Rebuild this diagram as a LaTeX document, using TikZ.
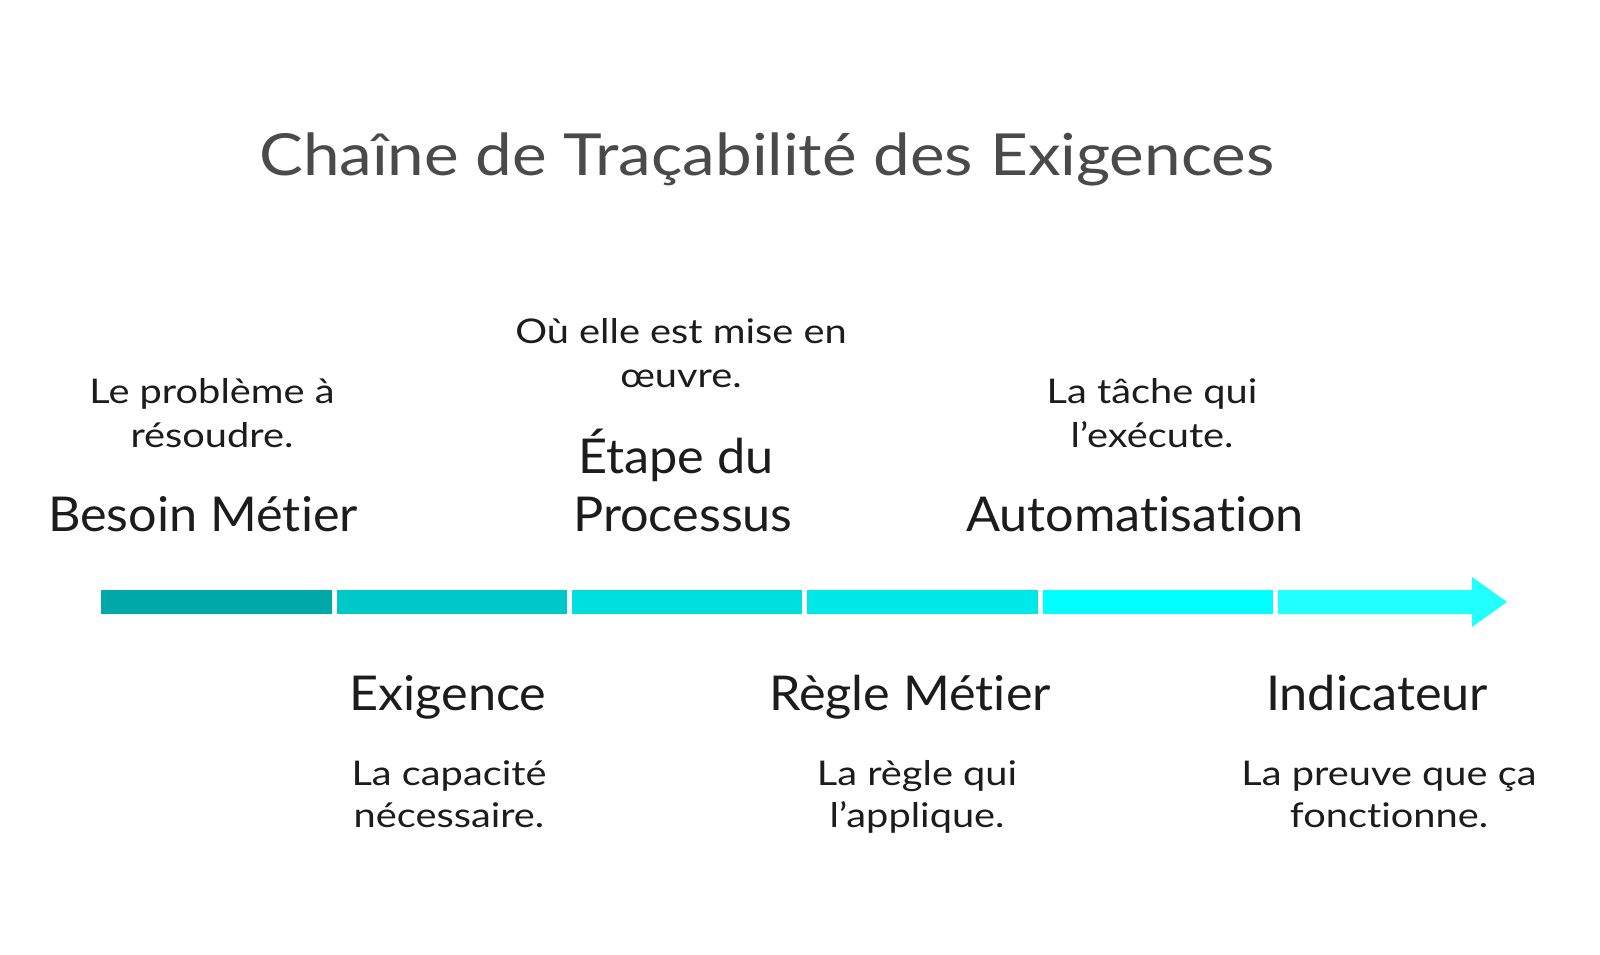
\documentclass[tikz,border=0pt]{standalone}
\usepackage{fontspec}
\setmainfont{Lato}[RawFeature=-liga]
\newfontfamily\titlefont{Lato}[FakeStretch=1.13,RawFeature=-liga]
\newfontfamily\lblfont{Lato}[FakeStretch=1.05,RawFeature=-liga]
\newfontfamily\descfont{Lato}[FakeStretch=1.17,RawFeature=-liga]
\definecolor{titlegray}{HTML}{4A4A4A}
\definecolor{ink}{HTML}{1C1C1C}
\definecolor{segA}{HTML}{00A8A8}
\definecolor{segB}{HTML}{00C8C8}
\definecolor{segC}{HTML}{00DFDF}
\definecolor{segD}{HTML}{00E8E8}
\definecolor{segE}{HTML}{00FFFF}
\definecolor{segF}{HTML}{22FFFF}
\begin{document}
\begin{tikzpicture}[x=1pt,y=-1pt,
  lbl/.style={font=\lblfont\fontsize{48}{58}\selectfont, text=ink, anchor=base, inner sep=0pt},
  desc/.style={font=\descfont\fontsize{34}{42}\selectfont, text=ink, anchor=base, inner sep=0pt},
  ttl/.style={font=\titlefont\fontsize{58}{70}\selectfont, text=titlegray, anchor=base, inner sep=0pt}]
\useasboundingbox (0,0) rectangle (1600,955);
\fill[white] (0,0) rectangle (1600,955);
% title
\node[ttl] (title) at (767,175) {Chaîne de Traçabilité des Exigences};
% bar segments
\fill[segA] (101,590) rectangle (332,614);
\fill[segB] (337,590) rectangle (567,614);
\fill[segC] (572,590) rectangle (802,614);
\fill[segD] (807,590) rectangle (1038,614);
\fill[segE] (1043,590) rectangle (1273,614);
\fill[segF] (1278,590) -- (1472,590) -- (1472,577) -- (1507,602) -- (1472,627) -- (1472,614) -- (1278,614) -- cycle;
% upper labels
\node[desc] (d1a) at (212,403) {Le problème à};
\node[desc] (d1b) at (212,447) {résoudre.};
\node[lbl] (l1) at (203,531) {Besoin Métier};
\node[desc] (d3a) at (681,343) {Où elle est mise en};
\node[desc] (d3b) at (681,387) {œuvre.};
\node[lbl] (l3a) at (676,473) {Étape du};
\node[lbl] (l3b) at (683,531) {Processus};
\node[desc] (d5a) at (1152,403) {La tâche qui};
\node[desc] (d5b) at (1152,447) {l’exécute.};
\node[lbl] (l5) at (1135,531) {Automatisation};
% lower labels
\node[lbl] (l2) at (448,710) {Exigence};
\node[desc] (d2a) at (449,785) {La capacité};
\node[desc] (d2b) at (449,827) {nécessaire.};
\node[lbl] (l4) at (910,710) {Règle Métier};
\node[desc] (d4a) at (917,785) {La règle qui};
\node[desc] (d4b) at (917,827) {l’applique.};
\node[lbl] (l6) at (1377,710) {Indicateur};
\node[desc] (d6a) at (1389,785) {La preuve que ça};
\node[desc] (d6b) at (1389,827) {fonctionne.};
\end{tikzpicture}
\end{document}
